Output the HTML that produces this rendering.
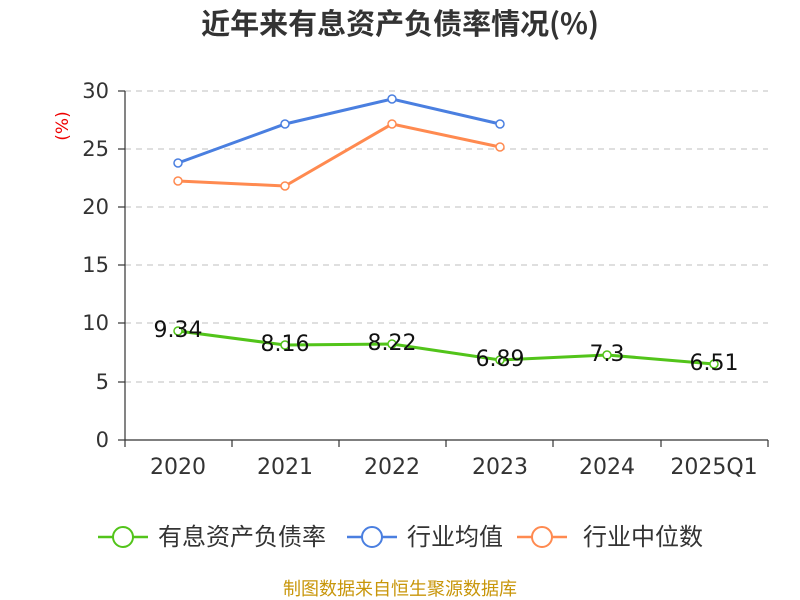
<!DOCTYPE html>
<html><head><meta charset="utf-8"><style>
body{margin:0;background:#fff;}
svg{display:block;font-family:"DejaVu Sans","Noto Sans CJK SC",sans-serif;}
</style></head><body>
<svg width="800" height="600" xmlns="http://www.w3.org/2000/svg">
<text x="400" y="34" text-anchor="middle" font-size="29" font-weight="bold" fill="#333" font-family="'Noto Sans CJK SC',sans-serif">近年来有息资产负债率情况(%)</text>
<text x="68" y="126" font-size="17" fill="#e00" transform="rotate(-90 68 126)" text-anchor="middle">(%)</text>
<g stroke="#ccc" stroke-dasharray="6,5" stroke-width="1.2">
<line x1="125" y1="91" x2="768" y2="91"/><line x1="125" y1="149" x2="768" y2="149"/>
<line x1="125" y1="207" x2="768" y2="207"/><line x1="125" y1="265" x2="768" y2="265"/>
<line x1="125" y1="323" x2="768" y2="323"/><line x1="125" y1="382" x2="768" y2="382"/>
</g>
<g stroke="#333" stroke-width="1.2">
<line x1="125" y1="91" x2="125" y2="440"/><line x1="125" y1="440" x2="768" y2="440"/>
<line x1="118" y1="91" x2="125" y2="91"/><line x1="118" y1="149" x2="125" y2="149"/><line x1="118" y1="207" x2="125" y2="207"/><line x1="118" y1="265" x2="125" y2="265"/><line x1="118" y1="323" x2="125" y2="323"/><line x1="118" y1="382" x2="125" y2="382"/><line x1="118" y1="440" x2="125" y2="440"/>
<line x1="125" y1="440" x2="125" y2="447"/><line x1="232" y1="440" x2="232" y2="447"/><line x1="339" y1="440" x2="339" y2="447"/><line x1="446" y1="440" x2="446" y2="447"/><line x1="553" y1="440" x2="553" y2="447"/><line x1="661" y1="440" x2="661" y2="447"/><line x1="768" y1="440" x2="768" y2="447"/>
</g>
<g font-size="21" fill="#333" text-anchor="end">
<text x="109" y="98">30</text><text x="109" y="156">25</text><text x="109" y="214">20</text><text x="109" y="272">15</text><text x="109" y="330">10</text><text x="109" y="389">5</text><text x="109" y="447">0</text>
</g>
<g font-size="22" fill="#333" text-anchor="middle">
<text x="178" y="474">2020</text><text x="285" y="474">2021</text><text x="392" y="474">2022</text><text x="500" y="474">2023</text><text x="607" y="474">2024</text><text x="714" y="474">2025Q1</text>
</g>
<polyline fill="none" stroke="#4a7fe0" stroke-width="3" points="178,163 285,124 392,99 500,124"/>
<polyline fill="none" stroke="#ff8a50" stroke-width="3" points="178,181 285,186 392,124 500,147"/>
<polyline fill="none" stroke="#52c41a" stroke-width="3" points="178,331 285,345 392,344 500,360 607,355 714,364"/>
<g fill="#fff" stroke-width="1.5">
<g stroke="#4a7fe0"><circle cx="178" cy="163" r="4"/><circle cx="285" cy="124" r="4"/><circle cx="392" cy="99" r="4"/><circle cx="500" cy="124" r="4"/></g>
<g stroke="#ff8a50"><circle cx="178" cy="181" r="4"/><circle cx="285" cy="186" r="4"/><circle cx="392" cy="124" r="4"/><circle cx="500" cy="147" r="4"/></g>
<g stroke="#52c41a"><circle cx="178" cy="331" r="4"/><circle cx="285" cy="345" r="4"/><circle cx="392" cy="344" r="4"/><circle cx="500" cy="360" r="4"/><circle cx="607" cy="355" r="4"/><circle cx="714" cy="364" r="4"/></g>
</g>
<g font-size="22" fill="#111" text-anchor="middle">
<text x="178" y="337">9.34</text><text x="285" y="351">8.16</text><text x="392" y="350">8.22</text><text x="500" y="366">6.89</text><text x="607" y="361">7.3</text><text x="714" y="370">6.51</text>
</g>
<g font-size="24" fill="#333">
<line x1="98" y1="537" x2="148" y2="537" stroke="#52c41a" stroke-width="2.5"/><circle cx="123" cy="537" r="10" fill="#fff" stroke="#52c41a" stroke-width="2"/>
<text x="158" y="545">有息资产负债率</text>
<line x1="347" y1="537" x2="397" y2="537" stroke="#4a7fe0" stroke-width="2.5"/><circle cx="372" cy="537" r="10" fill="#fff" stroke="#4a7fe0" stroke-width="2"/>
<text x="407" y="545">行业均值</text>
<line x1="517" y1="537" x2="567" y2="537" stroke="#ff8a50" stroke-width="2.5"/><circle cx="542" cy="537" r="10" fill="#fff" stroke="#ff8a50" stroke-width="2"/>
<text x="583" y="545">行业中位数</text>
</g>
<text x="400" y="595" text-anchor="middle" font-size="18" fill="#c8960a">制图数据来自恒生聚源数据库</text>
</svg>
</body></html>
